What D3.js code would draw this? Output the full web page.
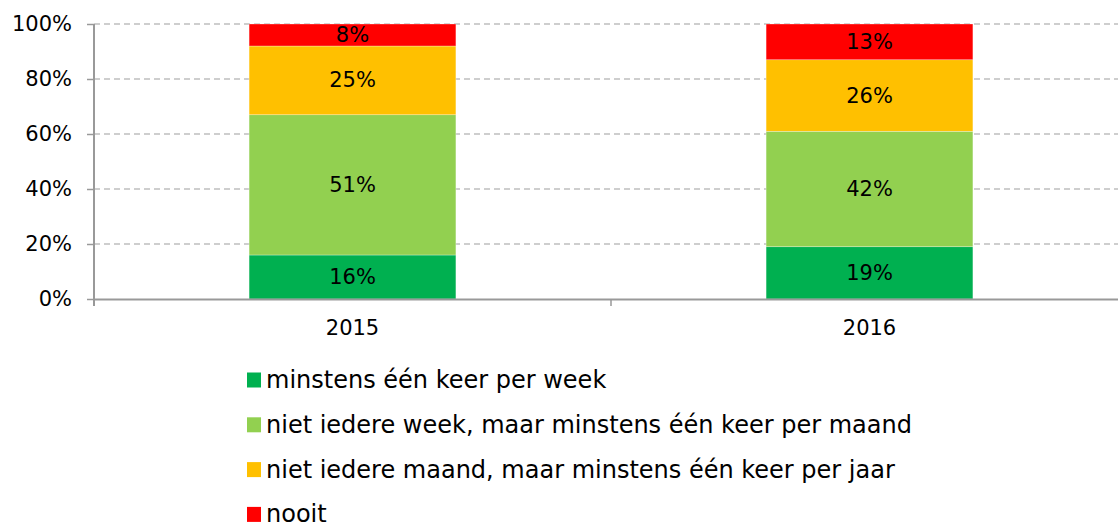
<!DOCTYPE html>
<html><head><meta charset="utf-8">
<script src="https://cdn.jsdelivr.net/npm/d3@7"></script>
<style>body{margin:0;background:#fff}svg{display:block}text{font-family:"DejaVu Sans",Verdana,sans-serif}</style>
</head><body><svg id="c" width="1118" height="524"></svg>
<script>
const years = ["2015", "2016"];
const seriesNames = ["minstens één keer per week", "niet iedere week, maar minstens één keer per maand", "niet iedere maand, maar minstens één keer per jaar", "nooit"];
const weekly = [16, 19];
const monthly = [51, 42];
const yearly = [25, 26];
const never = [8, 13];
const colors = ["#00B050", "#92D050", "#FFC000", "#FF0000"];
const yTicks = [0, 20, 40, 60, 80, 100];

const svg = d3.select("#c");
const x = d3.scaleBand().domain(years).range([94, 1128]).paddingInner(0.6).paddingOuter(0.3);
const y = d3.scaleLinear().domain([0, 100]).range([299, 24]);

const rows = years.map((yr, i) => ({year: yr, s0: weekly[i], s1: monthly[i], s2: yearly[i], s3: never[i]}));
const stack = d3.stack().keys(["s0", "s1", "s2", "s3"])(rows);

// gridlines
svg.append("g").selectAll("line").data(yTicks.filter(d => d > 0)).join("line")
  .attr("x1", 94).attr("x2", 1118).attr("y1", d => y(d)).attr("y2", d => y(d))
  .attr("stroke", "#BFBFBF").attr("stroke-width", 1.5).attr("stroke-dasharray", "6,4");

// bars
const gs = svg.append("g").selectAll("g").data(stack).join("g").attr("fill", (d, i) => colors[i]);
gs.selectAll("rect").data(d => d).join("rect")
  .attr("x", d => x(d.data.year)).attr("width", x.bandwidth())
  .attr("y", d => y(d[1])).attr("height", d => y(d[0]) - y(d[1]))
  .attr("stroke", "#fff").attr("stroke-width", 0.6).attr("stroke-opacity", 0.5);

// value labels
stack.forEach((s) => {
  svg.append("g").selectAll("text").data(s).join("text")
    .attr("x", d => x(d.data.year) + x.bandwidth() / 2)
    .attr("y", d => (y(d[0]) + y(d[1])) / 2)
    .attr("text-anchor", "middle").attr("dominant-baseline", "central")
    .attr("font-size", 21).attr("fill", "#000")
    .text(d => (d[1] - d[0]) + "%");
});

// y axis
const yAxis = d3.axisLeft(y).tickValues(yTicks).tickFormat(d => d + "%").tickSize(7).tickSizeOuter(0);
const yg = svg.append("g").attr("transform", "translate(94,0)").call(yAxis);
yg.select(".domain").remove();
yg.selectAll(".tick line").attr("stroke", "#999").attr("stroke-width", 1.5);
yg.selectAll(".tick text").attr("font-size", 21).attr("fill", "#000").attr("x", -22).attr("font-family", "DejaVu Sans");
svg.append("line").attr("x1", 94).attr("x2", 94).attr("y1", 24).attr("y2", 306).attr("stroke", "#999").attr("stroke-width", 2);

// x axis
svg.append("line").attr("x1", 93).attr("x2", 1118).attr("y1", 299.5).attr("y2", 299.5).attr("stroke", "#999").attr("stroke-width", 2);
const bounds = [x.range()[0], x.range()[0] + x.step(), x.range()[0] + 2 * x.step()];
svg.append("g").selectAll("line").data(bounds).join("line")
  .attr("x1", d => d).attr("x2", d => d).attr("y1", 299).attr("y2", 306)
  .attr("stroke", "#999").attr("stroke-width", 1.5);
svg.append("g").selectAll("text").data(years).join("text")
  .attr("x", d => x(d) + x.bandwidth() / 2).attr("y", 328)
  .attr("text-anchor", "middle").attr("dominant-baseline", "central")
  .attr("font-size", 21).attr("fill", "#000").text(d => d);

// legend
const lg = svg.append("g").selectAll("g").data(seriesNames).join("g")
  .attr("transform", (d, i) => `translate(247,${380 + i * 44.8})`);
lg.append("rect").attr("x", 0).attr("y", -7.5).attr("width", 14).attr("height", 15).attr("fill", (d, i) => colors[i]);
lg.append("text").attr("x", 19).attr("y", 0).attr("dominant-baseline", "central")
  .attr("font-size", 24).attr("fill", "#000").text(d => d);
</script></body></html>
